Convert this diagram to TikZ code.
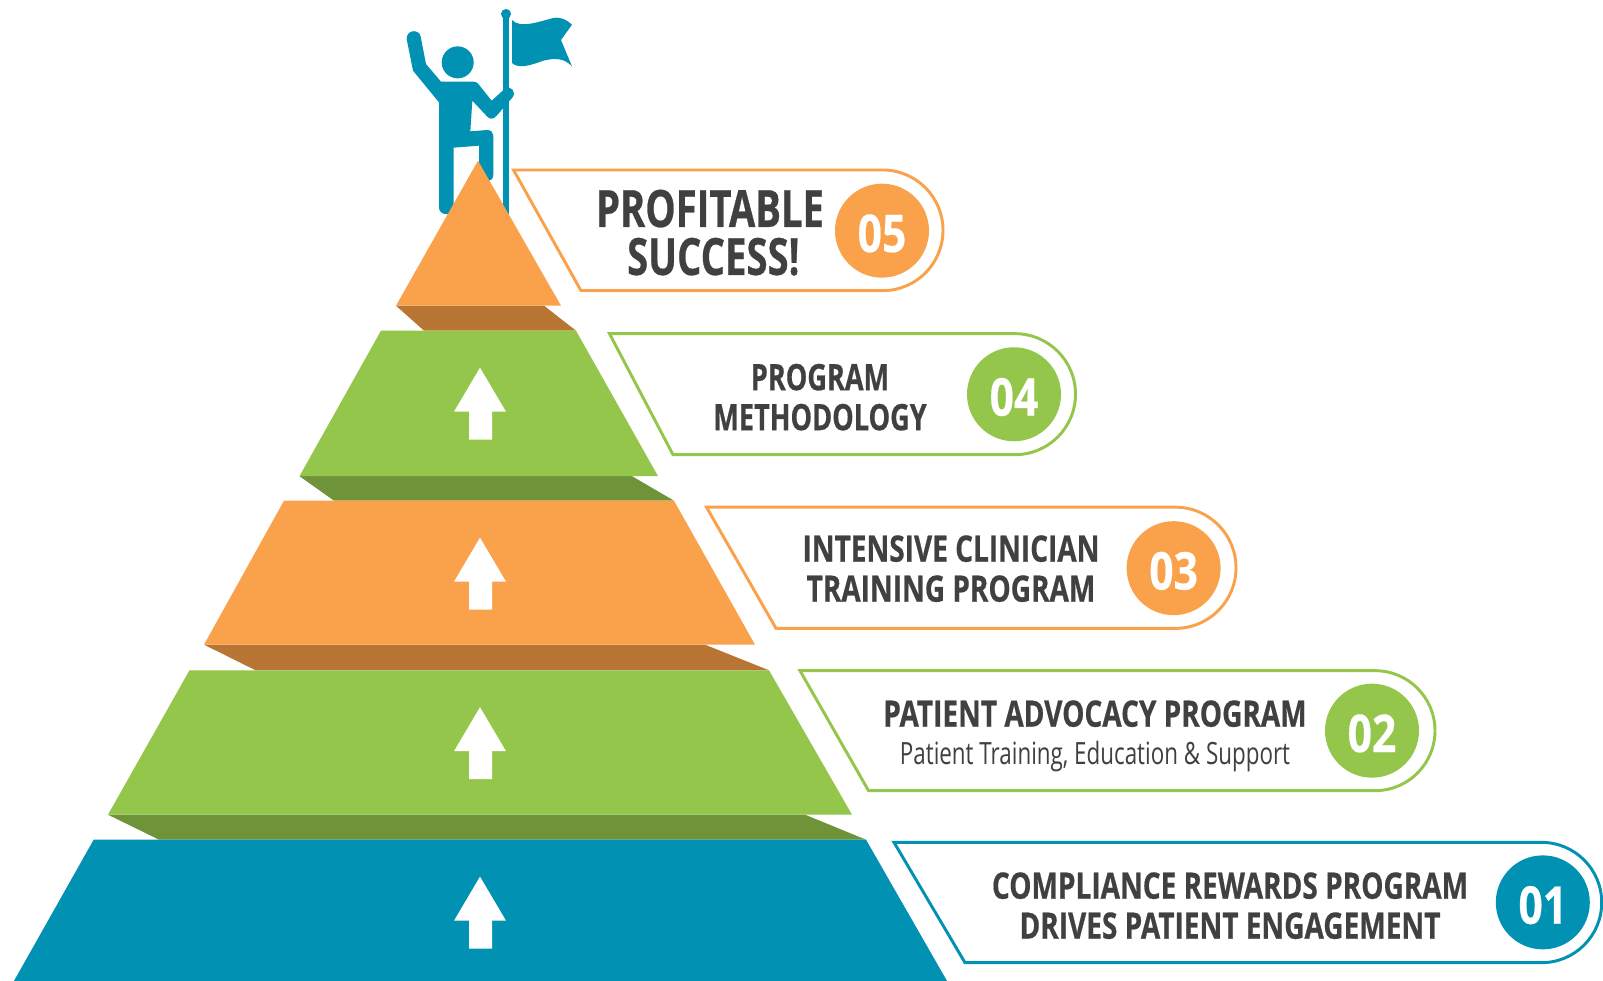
\documentclass[tikz,border=0pt]{standalone}
\usepackage{fontspec}
\newfontfamily\condhead[FakeStretch=0.77,BoldFeatures={FakeStretch=0.77,FakeBold=0.5}]{Open Sans}
\newfontfamily\condtight[FakeStretch=0.745,BoldFeatures={FakeStretch=0.745,FakeBold=0.5}]{Open Sans}
\newfontfamily\condbig[FakeStretch=0.745,BoldFeatures={FakeStretch=0.745,FakeBold=0.5}]{Open Sans}
\newfontfamily\condnum[FakeStretch=0.82,BoldFeatures={FakeStretch=0.82,FakeBold=0.4}]{Open Sans}
\newfontfamily\condsub[FakeStretch=0.73]{Open Sans}
\definecolor{bteal}{HTML}{0091B3}
\definecolor{lgreen}{HTML}{94C64C}
\definecolor{dgreen}{HTML}{6E9338}
\definecolor{lorange}{HTML}{F9A24B}
\definecolor{dorange}{HTML}{B87534}
\definecolor{ink}{HTML}{404040}
\tikzset{
  badge/.style={circle,fill=#1,minimum size=70.5pt,inner sep=0pt,text=white,text height=32pt,text depth=0pt,font=\condnum\bfseries\fontsize{39}{39}\selectfont},
  pillline/.style={line width=2.2pt,line join=miter},
  headline/.style={text=ink,align=center,inner sep=0pt,font=\condhead\bfseries\fontsize{27.3}{30}\selectfont},
  tightline/.style={text=ink,align=center,inner sep=0pt,font=\condtight\bfseries\fontsize{27.3}{30}\selectfont},
  bigline/.style={text=ink,align=center,inner sep=0pt,font=\condbig\bfseries\fontsize{38.5}{36}\selectfont},
  subline/.style={text=ink,align=center,inner sep=0pt,font=\condsub\fontsize{23}{24}\selectfont},
  ball/.style={circle,fill=bteal,inner sep=0pt,minimum size=#1},
}
\newcommand{\pill}[6]{% colour, x top-left, x bottom-left, y top, y bottom, x right
  \pgfmathsetmacro\rr{(#5-#4)/2}
  \pgfmathsetmacro\xs{#6-\rr}
  \pgfmathsetmacro\ym{(#4+#5)/2}
  \pgfmathsetmacro\kk{0.5523*\rr}
  \draw[pillline,draw=#1] (#2,#4) -- (\xs,#4)
    .. controls ({\xs+\kk},#4) and (#6,{\ym-\kk}) .. (#6,\ym)
    .. controls (#6,{\ym+\kk}) and ({\xs+\kk},#5) .. (\xs,#5)
    -- (#3,#5) -- cycle;
}
\newcommand{\liftarrow}[1]{%
  \fill[white] (480,#1) -- (506,{#1+44}) -- (492,{#1+44}) -- (492,{#1+72}) -- (469,{#1+72}) -- (469,{#1+44}) -- (454,{#1+44}) -- cycle;
}
\begin{document}
\begin{tikzpicture}[x=0.75pt,y=-0.75pt]
\useasboundingbox (0,0) rectangle (1603,981);
\fill[white] (0,0) rectangle (1603,981);
\begin{scope}[yshift=-0.5pt]

% climber, flag and pole (coordinates from a 3x crop at x=380)
\begin{scope}[shift={(380,0)},scale=0.33333]
  \fill[bteal] (80,115) .. controls (80,85) and (118,85) .. (122,108) -- (138,190) -- (183,243) -- (280,243)
    .. controls (288,243) and (292,246) .. (295,250) -- (335,300) -- (375,264)
    .. controls (392,252) and (412,275) .. (396,292) -- (350,345)
    .. controls (340,358) and (328,356) .. (320,346) -- (277,300) -- (271,392) -- (322,388)
    .. controls (333,388) and (340,396) .. (340,405) -- (340,520)
    .. controls (340,532) and (335,540) .. (325,540) -- (297,540) -- (297,435) -- (221,441) -- (221,625)
    .. controls (221,645) and (177,648) .. (177,620) -- (177,305) -- (99,210) -- cycle;
  \fill[bteal] (369,40) rectangle (387,645);
  \fill[bteal] (396,58) .. controls (420,85) and (480,62) .. (520,52)
    .. controls (545,48) and (560,58) .. (576,72) -- (543,118) -- (576,197)
    .. controls (555,175) and (530,170) .. (490,180)
    .. controls (450,195) and (415,205) .. (396,187) -- cycle;
\end{scope}
\node[ball=24pt] (head) at (457.7,61.7) {};
\node[ball=7.5pt] (poletop) at (506,13.3) {};

% pyramid bands
\fill[dorange] (396,305) -- (424,330) -- (576,330) -- (544,305) -- cycle;
\fill[lorange] (478,160) -- (561,305) -- (396,305) -- cycle;
\fill[dgreen] (299.5,475.5) -- (334,500) -- (674,500) -- (632,475.5) -- cycle;
\fill[lgreen] (381,330) -- (576,330) -- (658,475.5) -- (299.5,475.5) -- cycle;
\fill[dorange] (204,644) -- (255.6,669.6) -- (769,669.6) -- (705,644) -- cycle;
\fill[lorange] (284,500) -- (674,500) -- (755,644) -- (204,644) -- cycle;
\fill[dgreen] (108,814) -- (159,839) -- (866,839) -- (805,814) -- cycle;
\fill[lgreen] (189.5,669.6) -- (769,669.6) -- (852,814) -- (108,814) -- cycle;
\fill[bteal] (93.7,839) -- (866,839) -- (948,982) -- (13,982) -- cycle;

\liftarrow{367}
\liftarrow{537}
\liftarrow{706.5}
\liftarrow{876}

% callouts
\pill{lorange}{513.5}{581}{169.3}{290}{943}
\node[badge=lorange] (b5) at (882,230) {05};
\node[bigline] (t5) at (710,232) {PROFITABLE\\\hspace*{5pt}SUCCESS!};

\pill{lgreen}{609.5}{673}{333}{454}{1075.5}
\node[badge=lgreen] (b4) at (1014,393.6) {04};
\node[tightline] (t4) at (820,396.5) {PROGRAM\\METHODOLOGY};

\pill{lorange}{706.5}{776}{506.5}{627.7}{1236}
\node[badge=lorange] (b3) at (1173.6,567.5) {03};
\node[headline] (t3) at (951,568) {INTENSIVE CLINICIAN\\TRAINING PROGRAM};

\pill{lgreen}{800}{868.5}{670}{790}{1435}
\node[badge=lgreen] (b2) at (1372,730) {02};
\node[headline] (t2a) at (1095,713) {PATIENT ADVOCACY PROGRAM};
\node[subline] (t2b) at (1095,756) {Patient Training, Education \& Support};

\pill{bteal}{894}{965}{841.7}{962}{1601.7}
\node[badge=bteal] (b1) at (1542.8,901.7) {01};
\node[headline] (t1) at (1230,905) {COMPLIANCE REWARDS PROGRAM\\DRIVES PATIENT ENGAGEMENT};
\end{scope}
\end{tikzpicture}
\end{document}
